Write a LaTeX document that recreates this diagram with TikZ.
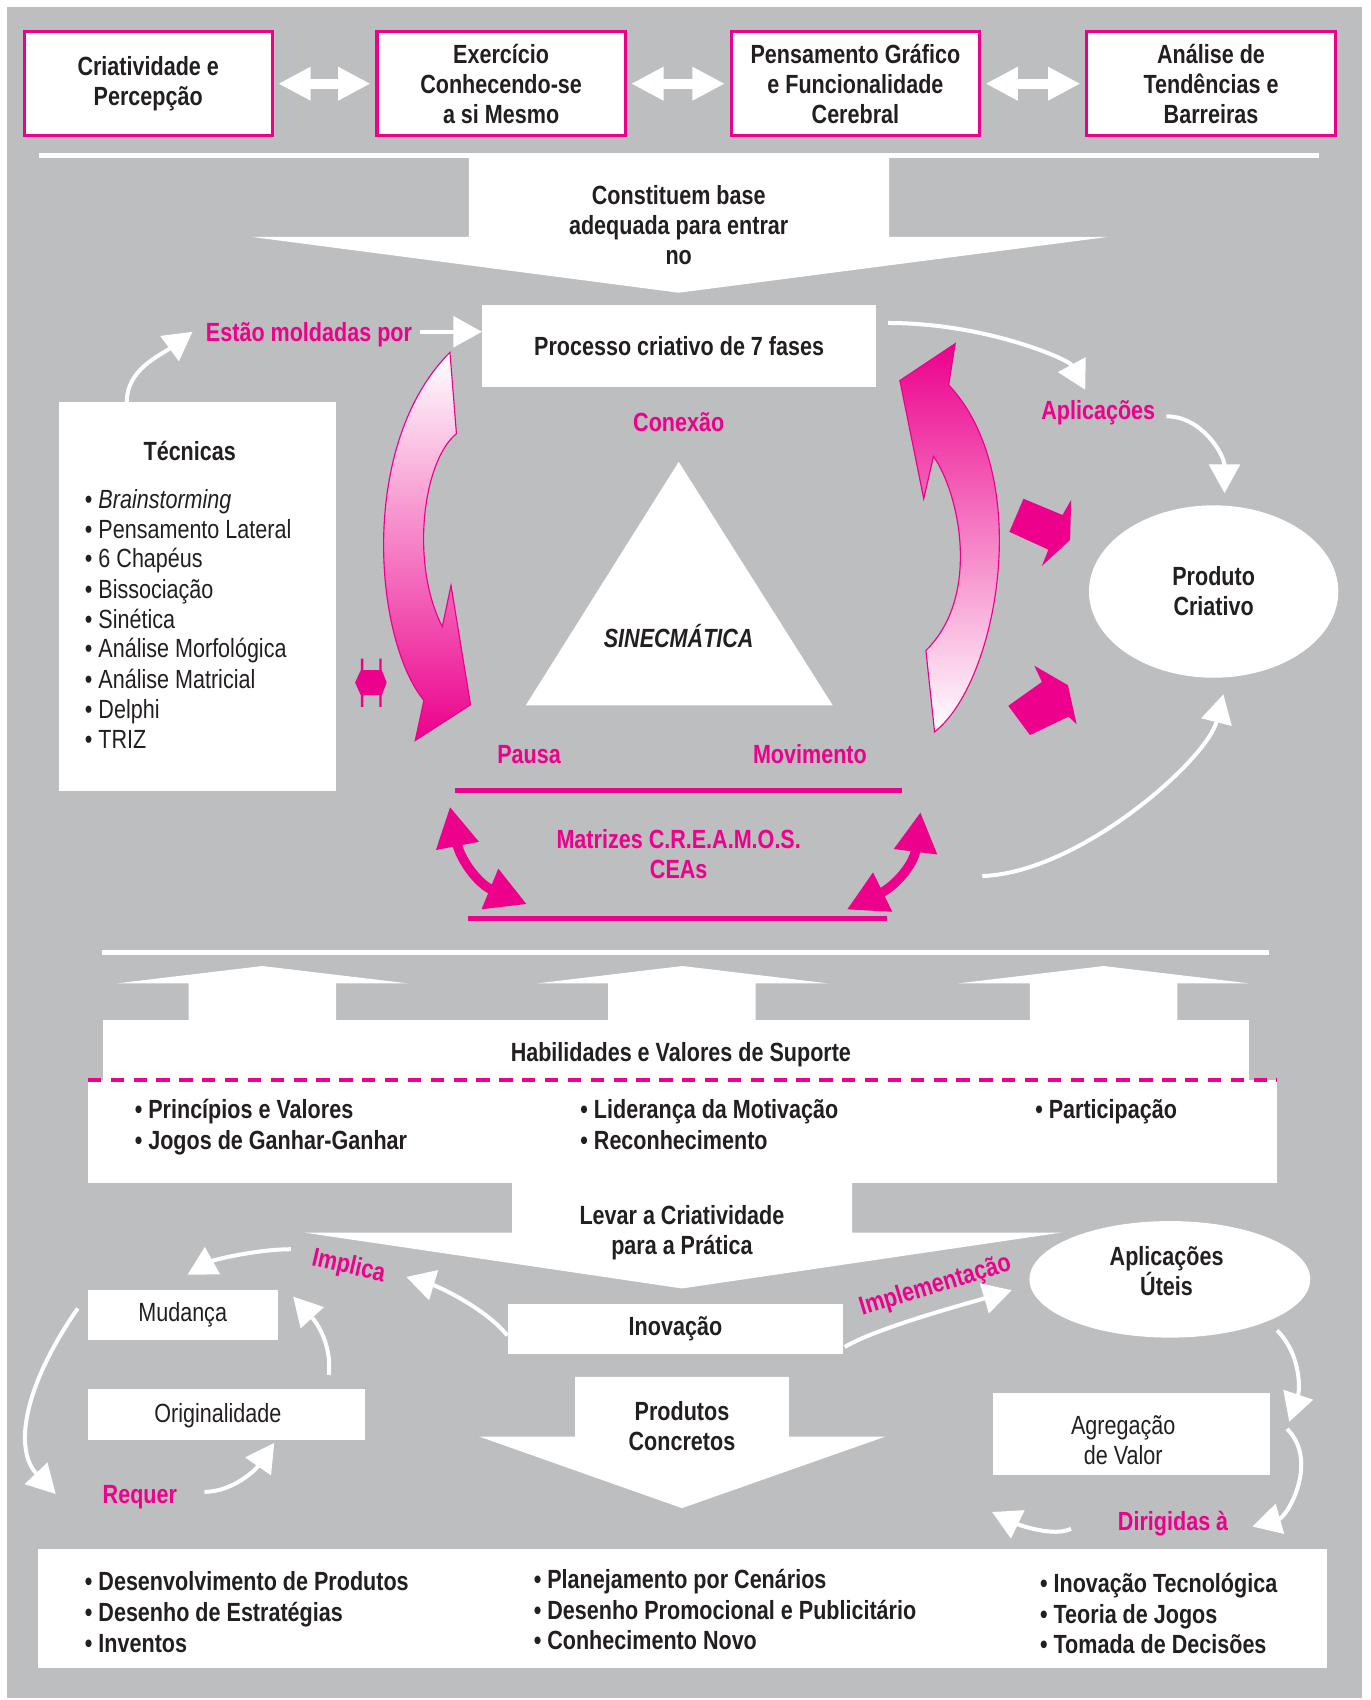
\documentclass[tikz,border=0pt]{standalone}
\usepackage{fontspec}
\setmainfont{Liberation Sans}[FakeStretch=0.82]
\usetikzlibrary{arrows.meta,calc,shapes.geometric}

\definecolor{pinkmag}{RGB}{236,0,140}
\definecolor{bggray}{RGB}{188,190,192}
\definecolor{darktext}{RGB}{35,31,32}

\tikzset{
  topbox/.style={draw=pinkmag, line width=1.6pt, fill=white, inner sep=0pt,
    minimum width=4.58cm, minimum height=1.92cm, align=center, font=\bfseries},
  wbox/.style={fill=white, inner sep=0pt, align=center},
  lbl/.style={inner sep=0pt, text height=13pt, text depth=3pt},
  pinklbl/.style={lbl, text=pinkmag, font=\bfseries},
  item/.style={lbl, anchor=west},
  bitem/.style={item, font=\bfseries},
  conn/.style={white, line width=2.1pt, -{Triangle[length=15pt,width=16pt]}},
  dblarrow/.style={white, line width=5.2pt, shorten <=2.3pt, shorten >=2.6pt,
    {Triangle[length=17pt,width=16.5pt]}-{Triangle[length=17pt,width=16.5pt]}},
  pinkdbl/.style={pinkmag, line width=5pt,
    {Triangle[length=21pt,width=21.5pt]}-{Triangle[length=21pt,width=21.5pt]}}
}

\begin{document}
\fontsize{13.8}{15.8}\selectfont
\begin{tikzpicture}[x=0.02cm,y=-0.02cm, every node/.style={text=darktext}]
\useasboundingbox (0,0) rectangle (1264,1568);
\fill[bggray] (6,6) rectangle (1256,1566);

% top row
\node[topbox] (crit) at (136.7,77.2) {Criatividade e\\Percepção};
\node[topbox] (exer) at (462.2,77.2) {Exercício\\Conhecendo-se\\a si Mesmo};
\node[topbox] (pens) at (789,77.2) {Pensamento Gráfico\\e Funcionalidade\\Cerebral};
\node[topbox] (anal) at (1117,77.2) {Análise de\\Tendências e\\Barreiras};
\draw[dblarrow] (crit) -- (exer);
\draw[dblarrow] (exer) -- (pens);
\draw[dblarrow] (pens) -- (anal);

% big arrow down
\draw[white, line width=2.85pt] (36,143.5) -- (1217,143.5);
\fill[white] (432.5,143.5) -- (820,143.5) -- (820,218.5) -- (1022,218.5) -- (626,270)
  -- (232,218.5) -- (432.5,218.5) -- cycle;
\node[align=center, font=\bfseries] (const) at (626,207.5) {Constituem base\\adequada para entrar\\no};

% middle
\node[wbox, minimum width=7.26cm, minimum height=1.51cm, font=\bfseries] (proc) at (626.4,319) {Processo criativo de 7 fases};
\node[wbox, minimum width=5.11cm, minimum height=7.17cm] (tec) at (182,550.2) {};
\node[lbl, font=\bfseries] (tectit) at (175,416) {Técnicas};
\node[item] (tq1) at (78,460) {• \textit{Brainstorming}};
\node[item] (tq2) at (78,487.5) {• Pensamento Lateral};
\node[item] (tq3) at (78,515) {• 6 Chapéus};
\node[item] (tq4) at (78,543) {• Bissociação};
\node[item] (tq5) at (78,570.5) {• Sinética};
\node[item] (tq6) at (78,598) {• Análise Morfológica};
\node[item] (tq7) at (78,626) {• Análise Matricial};
\node[item] (tq8) at (78,654) {• Delphi};
\node[item] (tq9) at (78,682) {• TRIZ};

\node[pinklbl] (estao) at (285,306) {Estão moldadas por};
\node[pinklbl] (conex) at (626,389) {Conexão};
\node[pinklbl] (pausa) at (488,695) {Pausa};
\node[pinklbl] (movim) at (747,695) {Movimento};
\node[pinklbl] (aplic) at (1013,378) {Aplicações};

\fill[white] (626,426) -- (768,650.5) -- (485,650.5) -- cycle;
\node[lbl, font=\bfseries\itshape] (sinec) at (626,588) {SINECMÁTICA};

\node[ellipse, fill=white, inner sep=0pt, minimum width=4.6cm, minimum height=3.18cm,
  align=center, font=\bfseries] (prod) at (1119.4,545.6) {Produto\\Criativo};

% curved gradient arrows
\path[draw=pinkmag, line width=0.6pt, top color=white, bottom color=pinkmag]
  (415,325) -- (421,400) .. controls (390,425) and (378,520) .. (408,578)
  -- (416,540) -- (434,650) -- (383,683) -- (391,646)
  .. controls (345,590) and (330,410) .. (415,325) -- cycle;
\path[draw=pinkmag, line width=0.6pt, top color=pinkmag, bottom color=white]
  (881,317) -- (875,355) .. controls (955,440) and (920,630) .. (862,675)
  -- (854,600) .. controls (905,550) and (885,455) .. (861,421)
  -- (852,460) -- (830,351) -- cycle;

% small pink arrows
\fill[pinkmag] (944,460) -- (980,475) -- (988,461) -- (987,498) -- (961,522)
  -- (967,507) -- (931,490.5) -- cycle;
\fill[pinkmag] (954,614) -- (985,632) -- (993,668) -- (985.6,661) -- (950,678)
  -- (930,651) -- (961,629) -- cycle;
\fill[pinkmag] (332.8,607.4) -- (335.2,607.4) -- (335.2,618.1) -- (350,618.1) -- (350,607.4)
  -- (352.1,607.4) -- (352.1,618.1) -- (356.7,629.5) -- (352.1,641.2) -- (352.1,652)
  -- (350,652) -- (350,641.2) -- (335.2,641.2) -- (335.2,652) -- (332.8,652)
  -- (332.8,641.2) -- (327.5,629.5) -- (332.8,618.1) -- cycle;

% matrizes
\draw[pinkmag, line width=2.45pt] (420,729) -- (832,729);
\draw[pinkmag, line width=2.45pt] (432,847) -- (818,847);
\node[align=center, text=pinkmag, font=\bfseries] (matr) at (626,788) {Matrizes C.R.E.A.M.O.S.\\CEAs};
\coordinate (ml1) at (415,744);
\coordinate (ml2) at (486,834);
\coordinate (mr1) at (849,749);
\coordinate (mr2) at (781,839);
\draw[pinkdbl] (ml1) .. controls (424,791) and (440,815) .. (ml2);
\draw[pinkdbl] (mr1) .. controls (843,797) and (826,817) .. (mr2);

% white connectors, middle
\draw[conn] ($(tec.north west)+(63,0)$) .. controls +(0,-30) and +(-30,22) .. ($(estao.west)+(-12,0)$);
\draw[conn] ([xshift=4pt]estao.east) -- (estao.east -| proc.west);
\draw[conn] ($(proc.north east)+(11,17)$) .. controls +(90,0) and +(-15,-28) .. ($(aplic.north)+(-12,-4)$);
\draw[conn] ($(aplic.east)+(10,6)$) .. controls +(33,0) and +(0,-35) .. ($(prod.north)+(10,-11)$);
\coordinate (arcst) at (906,808);
\draw[conn] (arcst) .. controls +(90,-3) and +(-15,60) .. ($(prod.south)+(9,15)$);

% support skills
\draw[white, line width=2.6pt] (94,878.8) -- (1170,878.8);
\fill[white] (174,941) -- (174,907) -- (108,907) -- (242,891) -- (376,907) -- (310,907) -- (310,941) -- cycle;
\fill[white] (561,941) -- (561,907) -- (495.5,907) -- (629.5,891) -- (763.5,907) -- (697,907) -- (697,941) -- cycle;
\fill[white] (950,941) -- (950,907) -- (884,907) -- (1018,891) -- (1152,907) -- (1086,907) -- (1086,941) -- cycle;
\fill[white] (94.7,941) rectangle (1152,996);
\fill[white] (81,996) rectangle (1178,1091.5);
\draw[pinkmag, line width=2.1pt, dash pattern=on 7pt off 5pt] (81,996) -- (1178,996);
\node[lbl, font=\bfseries] (hab) at (628,970) {Habilidades e Valores de Suporte};
\node[bitem] (hb1) at (124,1023) {• Princípios e Valores};
\node[bitem] (hb2) at (124,1051) {• Jogos de Ganhar-Ganhar};
\node[bitem] (hb3) at (535,1023) {• Liderança da Motivação};
\node[bitem] (hb4) at (535,1051) {• Reconhecimento};
\node[bitem] (hb5) at (954.5,1023) {• Participação};

% levar a criatividade
\fill[white] (472.4,1091) -- (786,1091) -- (786,1137) -- (978,1137) -- (629,1188.4)
  -- (281.4,1137) -- (472.4,1137) -- cycle;
\node[align=center, font=\bfseries] (levar) at (629,1137) {Levar a Criatividade\\para a Prática};
\fill[white] (530.5,1270) -- (727.5,1270) -- (727.5,1325) -- (816.7,1325) -- (629,1391)
  -- (442,1325) -- (530.5,1325) -- cycle;
\node[align=center, font=\bfseries] (concr) at (629,1315) {Produtos\\Concretos};

\node[wbox, minimum width=6.19cm, minimum height=0.93cm, font=\bfseries] (inov) at (623,1225.8) {Inovação};
\node[wbox, minimum width=3.5cm, minimum height=0.936cm] (mud) at (168.5,1212.9) {Mudança};
\node[wbox, minimum width=5.12cm, minimum height=0.938cm] (orig) at (209,1305) {};
\node (origtxt) at (201,1306) {Originalidade};
\node[ellipse, fill=white, inner sep=0pt, minimum width=5.18cm, minimum height=2.15cm] (aplu) at (1079,1180) {};
\node[align=center, font=\bfseries] (aplutxt) at (1076,1172) {Aplicações\\Úteis};
\node[wbox, minimum width=5.12cm, minimum height=1.51cm] (agr) at (1043.8,1322.5) {};
\node[align=center] (agrtxt) at (1036,1328) {Agregação\\de Valor};

\node[pinklbl, rotate=-13] (impl) at (322,1166) {Implica};
\node[pinklbl, rotate=17] (implem) at (862,1184) {Implementação};
\node[pinklbl] (req) at (129,1378) {Requer};
\node[pinklbl] (dirig) at (1082,1403) {Dirigidas à};

% white connectors, bottom
\draw[conn] ($(impl.west)+(-20,-6)$) .. controls +(-30,0) and +(25,-14) .. ($(mud.north)+(4.5,-13.5)$);
\draw[conn] ($(inov.west)+(0,6)$) .. controls +(-20,-25) and +(30,9) .. ($(impl.east)+(19,4)$);
\draw[conn] ($(orig.north east)+(-34,-13)$) .. controls +(3,-30) and +(20,22) .. ($(mud.east)+(14,-17)$);
\draw[conn] ($(mud.west)+(-9,-6)$) .. controls +(-52,75) and +(-38,-40) .. ($(req.west)+(-43,0)$);
\draw[conn] ($(req.east)+(25,-2)$) .. controls +(25,0) and +(-18,26) .. ($(orig.south)+(44,2)$);
\draw[conn] ($(inov.south east)+(1,-7)$) .. controls +(30,-18) and +(-40,12) .. ($(aplu.west)+(-16,10)$);
\draw[conn] ($(aplu.east)+(-31,47)$) .. controls +(22,22) and +(10,-30) .. ($(agr.north east)+(17,27)$);
\draw[conn] ($(agr.east)+(15,-4.5)$) .. controls +(30,30) and +(32,-9) .. ($(dirig.east)+(22,5)$);
\coordinate (dirend) at (915,1394.6);
\draw[conn] ($(dirig.west)+(-43,7)$) .. controls +(-15,8) and +(25,12) .. (dirend);

% bottom list
\node[wbox, minimum width=23.78cm, minimum height=2.2cm] (bot) at (629.5,1483.5) {};
\node[bitem] (bt1) at (78,1458) {• Desenvolvimento de Produtos};
\node[bitem] (bt2) at (78,1487) {• Desenho de Estratégias};
\node[bitem] (bt3) at (78,1515) {• Inventos};
\node[bitem] (bt4) at (492,1456) {• Planejamento por Cenários};
\node[bitem] (bt5) at (492,1485) {• Desenho Promocional e Publicitário};
\node[bitem] (bt6) at (492,1513) {• Conhecimento Novo};
\node[bitem] (bt7) at (959,1460) {• Inovação Tecnológica};
\node[bitem] (bt8) at (959,1489) {• Teoria de Jogos};
\node[bitem] (bt9) at (959,1516) {• Tomada de Decisões};
\end{tikzpicture}
\end{document}
